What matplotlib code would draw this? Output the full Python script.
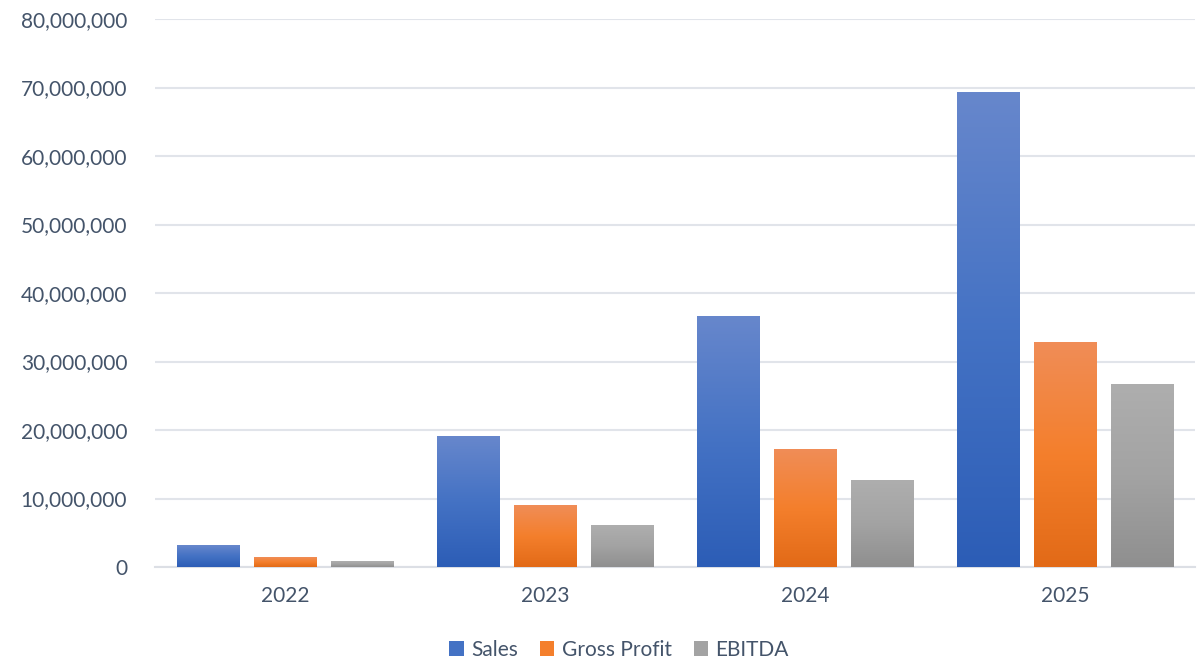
import numpy as np
import matplotlib
matplotlib.use("Agg")
import matplotlib.pyplot as plt
from matplotlib.colors import LinearSegmentedColormap
from matplotlib.ticker import FuncFormatter
from matplotlib.patches import Patch

years = ["2022", "2023", "2024", "2025"]
series = ["Sales", "Gross Profit", "EBITDA"]
sales = [3.2e6, 19.1e6, 36.5e6, 69.2e6]
gross_profit = [1.45e6, 9.05e6, 17.2e6, 32.8e6]
ebitda = [0.75e6, 6.0e6, 12.7e6, 26.6e6]

# top, middle, bottom colours of each bar gradient
grads = [
    ["#6787cc", "#4472c4", "#2c5db6"],
    ["#f08d57", "#f47f2c", "#e26a17"],
    ["#aeaeae", "#a3a3a3", "#8f8f8f"],
]
text_col = "#44546a"
plt.rcParams["font.family"] = ["Lato", "DejaVu Sans"]

fig = plt.figure(figsize=(11.99, 6.62), dpi=100)
ax = fig.add_axes([155 / 1199, 95 / 662, 1040 / 1199, 548 / 662])

x = np.arange(len(years))
width = 0.242
step = 0.296
values = [sales, gross_profit, ebitda]
for i, vals in enumerate(values):
    cmap = LinearSegmentedColormap.from_list("g%d" % i, grads[i][::-1])
    grad = np.linspace(0, 1, 256).reshape(-1, 1)
    for xi, v in zip(x, vals):
        x0 = xi + (i - 1) * step - width / 2
        ax.imshow(grad, extent=(x0, x0 + width, 0, v), origin="lower",
                  aspect="auto", cmap=cmap, zorder=3, interpolation="bilinear")

ax.set_xlim(-0.5, 3.5)
ax.set_ylim(0, 80e6)
ax.set_yticks(np.arange(0, 80e6 + 1, 10e6))
ax.yaxis.set_major_formatter(FuncFormatter(lambda v, p: "{:,.0f}".format(v)))
ax.set_xticks(x)
ax.set_xticklabels(years)
ax.grid(axis="y", color="#e1e4ea", linewidth=1.5, zorder=0)
for s in ["top", "right", "left"]:
    ax.spines[s].set_visible(False)
ax.spines["bottom"].set_color("#dcdfe5")
ax.spines["bottom"].set_linewidth(1.5)
ax.tick_params(axis="both", length=0, labelsize=15, labelcolor=text_col)
ax.tick_params(axis="y", pad=20)
ax.tick_params(axis="x", pad=14)

handles = [Patch(facecolor=g[1], label=n) for g, n in zip(grads, series)]
fig.legend(handles=handles, loc="center", bbox_to_anchor=(619 / 1199, 12 / 662), ncol=3,
           frameon=False, fontsize=15, labelcolor=text_col, handlelength=0.7,
           handleheight=0.7, handletextpad=0.35, columnspacing=1.05)

fig.savefig("out.png", dpi=100)
